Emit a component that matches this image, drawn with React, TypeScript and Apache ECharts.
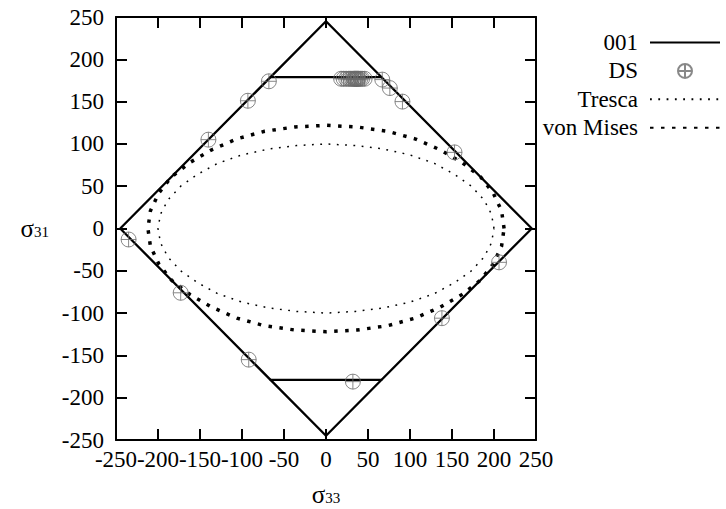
import React, { useEffect, useRef } from "react";
import * as echarts from "echarts";

// Axis scale
const AXIS_MIN = -250;
const AXIS_MAX = 250;
const AXIS_STEP = 50;

// Legend entries
const legendNames = ["001", "DS", "Tresca", "von Mises"];

// "001" yield surface (diamond plus the two flat chords)
const line001Diamond: [number, number][] = [
  [-245, 0], [0, 245], [245, 0], [0, -245], [-245, 0],
];
const line001TopChord: [number, number][] = [[-67, 179], [67, 179]];
const line001BottomChord: [number, number][] = [[-67, -179], [67, -179]];

// DS points
const dsPoints: [number, number][] = [
  [-235, -13], [-173, -76], [-92, -155], [32, -181], [138, -106], [206, -40],
  [153, 90], [91, 150], [76, 166], [67, 176],
  [46, 177], [43, 177], [41, 177], [39, 177], [38, 177], [37, 177], [36, 177],
  [35, 177], [34, 177], [33, 177], [31, 177], [29, 177], [27, 177], [24, 177],
  [21, 177], [18, 177],
  [-68, 174], [-93, 151], [-140, 105],
];

// Tresca curve
const trescaPoints: [number, number][] = [
  [200, 0], [197, 17], [188, 34], [173, 50], [153, 64], [129, 77], [100, 87], [68, 94], [35, 98], [0, 100],
  [-35, 98], [-68, 94], [-100, 87], [-129, 77], [-153, 64], [-173, 50], [-188, 34], [-197, 17], [-200, 0],
  [-197, -17], [-188, -34], [-173, -50], [-153, -64], [-129, -77], [-100, -87], [-68, -94], [-35, -98], [0, -100],
  [35, -98], [68, -94], [100, -87], [129, -77], [153, -64], [173, -50], [188, -34], [197, -17], [200, 0],
];

// von Mises curve
const vonMisesPoints: [number, number][] = [
  [212, 0], [209, 21], [199, 42], [184, 61], [162, 78], [136, 93], [106, 106], [73, 115], [37, 120], [0, 122],
  [-37, 120], [-73, 115], [-106, 106], [-136, 93], [-162, 78], [-184, 61], [-199, 42], [-209, 21], [-212, 0],
  [-209, -21], [-199, -42], [-184, -61], [-162, -78], [-136, -93], [-106, -106], [-73, -115], [-37, -120], [0, -122],
  [37, -120], [73, -115], [106, -106], [136, -93], [162, -78], [184, -61], [199, -42], [209, -21], [212, 0],
];

const SERIF = "serif";
const OPLUS =
  "path://M10,0A10,10,0,1,1,-10,0A10,10,0,1,1,10,0ZM-10,0L10,0M0,-10L0,10";

const nameRich = {
  s: { fontFamily: SERIF, fontSize: 25, color: "#000" },
  sub: { fontFamily: SERIF, fontSize: 15, color: "#000", padding: [7, 0, 0, 0] },
};

function makeAxis(kind: "x" | "y", position: string, withLabels: boolean) {
  const base: any = {
    type: "value",
    min: AXIS_MIN,
    max: AXIS_MAX,
    interval: AXIS_STEP,
    position,
    axisLine: { show: true, onZero: false, lineStyle: { color: "#000", width: 2 } },
    axisTick: { show: true, inside: true, length: 11, lineStyle: { color: "#000", width: 2 } },
    splitLine: { show: false },
    axisLabel: withLabels
      ? { show: true, color: "#000", fontFamily: SERIF, fontSize: 23, margin: kind === "x" ? 8 : 12 }
      : { show: false },
  };
  return base;
}

function buildOption() {
  const xBottom = makeAxis("x", "bottom", true);
  xBottom.name = "{s|σ}{sub|33}";
  xBottom.nameLocation = "middle";
  xBottom.nameGap = 42;
  xBottom.nameTextStyle = { rich: nameRich };
  const yLeft = makeAxis("y", "left", true);
  yLeft.name = "{s|σ}{sub|31}";
  yLeft.nameLocation = "middle";
  yLeft.nameRotate = 0;
  yLeft.nameGap = 67;
  yLeft.nameTextStyle = { rich: nameRich };

  const solid = { color: "#000", width: 2.3, type: "solid" as const };
  return {
    animation: false,
    backgroundColor: "#fff",
    textStyle: { fontFamily: SERIF },
    grid: { left: 116, right: 190, top: 17, bottom: 69, outerBoundsMode: "none", containLabel: false },
    xAxis: [xBottom, makeAxis("x", "top", false)],
    yAxis: [yLeft, makeAxis("y", "right", false)],
    legend: {
      data: legendNames.map((n) =>
        n === "DS" ? { name: n } : { name: n, itemStyle: { opacity: 0 } }
      ),
      orient: "vertical",
      align: "right",
      right: 5,
      top: 31,
      padding: 0,
      itemGap: 5.4,
      itemWidth: 70,
      itemHeight: 14,
      textStyle: { color: "#000", fontFamily: SERIF, fontSize: 23, padding: [0, 7, 0, 0] },
      selectedMode: false,
    },
    series: [
      {
        name: "001", type: "line", data: line001Diamond, symbol: "none",
        lineStyle: solid, itemStyle: { color: "#000" }, z: 3,
      },
      {
        name: "001", type: "line", data: line001TopChord, symbol: "none",
        lineStyle: solid, itemStyle: { color: "#000" }, z: 3,
      },
      {
        name: "001", type: "line", data: line001BottomChord, symbol: "none",
        lineStyle: solid, itemStyle: { color: "#000" }, z: 3,
      },
      {
        name: "Tresca", type: "line", data: trescaPoints, symbol: "none",
        lineStyle: { color: "#000", width: 1.5, type: [1.8, 6.5], cap: "butt" },
        itemStyle: { color: "#000" }, z: 2,
      },
      {
        name: "von Mises", type: "line", data: vonMisesPoints, symbol: "none",
        lineStyle: { color: "#000", width: 3.5, type: [3.5, 7.5], cap: "butt" },
        itemStyle: { color: "#000" }, z: 2,
      },
      {
        name: "DS", type: "scatter", data: dsPoints, symbol: OPLUS, symbolSize: 15,
        itemStyle: { color: "rgba(0,0,0,0)", borderColor: "#6a6a6a", borderWidth: 1 },
        z: 5,
      },
    ],
  };
}

export default function App() {
  const ref = useRef<HTMLDivElement>(null);
  useEffect(() => {
    if (!ref.current) return;
    const chart = echarts.init(ref.current, null, { renderer: "svg" });
    chart.setOption(buildOption() as any);
    return () => chart.dispose();
  }, []);
  return (
    <div
      ref={ref}
      style={{
        position: "fixed",
        left: 0,
        top: 0,
        width: 726,
        height: 509,
        background: "#fff",
        fontFamily: "serif",
      }}
    />
  );
}
